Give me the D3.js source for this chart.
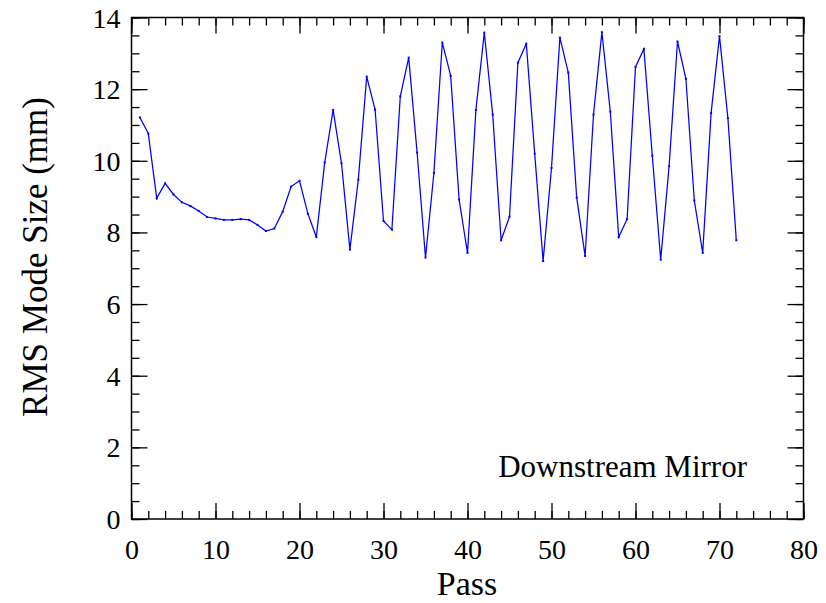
<!DOCTYPE html>
<html>
<head>
<meta charset="utf-8">
<script src="https://cdn.jsdelivr.net/npm/d3@7"></script>
<style>
  html, body { margin: 0; padding: 0; background: #fff; }
  svg { display: block; }
  .axis path { display: none; }
  .axis line { stroke: #000; stroke-width: 1.3; }
</style>
</head>
<body>
<svg id="chart" width="826" height="603"></svg>
<script>
// Pass number and RMS mode size (mm) at the downstream mirror
const passes = d3.range(1, 73);
const rmsSize = [
  11.21, 10.76, 8.95, 9.37, 9.06, 8.84, 8.74, 8.60, 8.43, 8.39,
  8.35, 8.35, 8.37, 8.35, 8.21, 8.04, 8.11, 8.58, 9.28, 9.44,
  8.52, 7.87, 9.95, 11.42, 9.93, 7.52, 9.47, 12.35, 11.43, 8.32,
  8.08, 11.80, 12.88, 10.23, 7.30, 9.66, 13.30, 12.37, 8.92, 7.43,
  11.42, 13.58, 11.29, 7.78, 8.44, 12.74, 13.27, 10.20, 7.20, 9.80,
  13.44, 12.46, 8.97, 7.34, 11.29, 13.59, 11.37, 7.87, 8.37, 12.62,
  13.12, 10.14, 7.24, 9.85, 13.33, 12.29, 8.89, 7.43, 11.33, 13.48,
  11.19, 7.78
];

const xMajorTicks = [0, 10, 20, 30, 40, 50, 60, 70, 80];
const xMinorTicks = d3.range(0, 81, 2);
const yMajorTicks = [0, 2, 4, 6, 8, 10, 12, 14];
const yMinorTicks = d3.range(0, 14.01, 0.5);

const xTitle = "Pass";
const yTitle = "RMS Mode Size (mm)";
const seriesLabel = "Downstream Mirror";

const serif = '"Liberation Serif", "Times New Roman", serif';
const plotLeft = 131.5, plotRight = 803.5, plotTop = 17.5, plotBottom = 519;
const svg = d3.select("#chart");

const x = d3.scaleLinear().domain([0, 80]).range([plotLeft, plotRight]);
const y = d3.scaleLinear().domain([0, 14]).range([plotBottom, plotTop]);

const majorLen = 16, minorLen = 8;

function addAxis(gen, transform, labels) {
  const g = svg.append("g").attr("class", "axis").attr("transform", transform).call(gen);
  if (!labels) g.selectAll("text").remove();
  g.selectAll("text").style("font-family", serif).attr("fill", "#000").attr("font-size", 28);
  return g;
}

// bottom axis with labels
const bx = addAxis(d3.axisBottom(x).tickValues(xMajorTicks).tickSize(-majorLen).tickPadding(0).tickFormat(d3.format("d")),
  `translate(0,${plotBottom})`, true);
bx.selectAll("text").attr("y", 40).attr("dy", 0);
addAxis(d3.axisBottom(x).tickValues(xMinorTicks).tickSize(-minorLen), `translate(0,${plotBottom})`, false);
// top axis
addAxis(d3.axisTop(x).tickValues(xMajorTicks).tickSize(-majorLen), `translate(0,${plotTop})`, false);
addAxis(d3.axisTop(x).tickValues(xMinorTicks).tickSize(-minorLen), `translate(0,${plotTop})`, false);
// left axis with labels
const ly = addAxis(d3.axisLeft(y).tickValues(yMajorTicks).tickSize(-majorLen).tickFormat(d3.format("d")),
  `translate(${plotLeft},0)`, true);
ly.selectAll("text").attr("x", -11).attr("dy", "0.34em");
addAxis(d3.axisLeft(y).tickValues(yMinorTicks).tickSize(-minorLen), `translate(${plotLeft},0)`, false);
// right axis
addAxis(d3.axisRight(y).tickValues(yMajorTicks).tickSize(-majorLen), `translate(${plotRight},0)`, false);
addAxis(d3.axisRight(y).tickValues(yMinorTicks).tickSize(-minorLen), `translate(${plotRight},0)`, false);

// frame
svg.append("rect")
  .attr("x", plotLeft).attr("y", plotTop)
  .attr("width", plotRight - plotLeft).attr("height", plotBottom - plotTop)
  .attr("fill", "none").attr("stroke", "#000").attr("stroke-width", 1.5);

// data line
const pts = passes.map((p, i) => [p, rmsSize[i]]);
svg.append("path")
  .datum(pts)
  .attr("fill", "none")
  .attr("stroke", "#0000ff")
  .attr("stroke-width", 1.25)
  .attr("stroke-linejoin", "miter")
  .attr("d", d3.line().x(d => x(d[0])).y(d => y(d[1])));

svg.append("g").selectAll("rect")
  .data(pts).join("rect")
  .attr("x", d => x(d[0]) - 1).attr("y", d => y(d[1]) - 1)
  .attr("width", 2).attr("height", 2)
  .attr("fill", "#0000ff");

// titles
svg.append("text")
  .attr("x", (plotLeft + plotRight) / 2 - 0.5).attr("y", 595)
  .attr("text-anchor", "middle").attr("font-size", 34)
  .style("font-family", serif).attr("fill", "#000")
  .text(xTitle);

svg.append("text")
  .attr("transform", "translate(47,257) rotate(-90)")
  .attr("text-anchor", "middle").attr("font-size", 35)
  .style("font-family", serif).attr("fill", "#000")
  .text(yTitle);

svg.append("text")
  .attr("x", 747).attr("y", 477)
  .attr("text-anchor", "end").attr("font-size", 31)
  .style("font-family", serif).attr("fill", "#000")
  .text(seriesLabel);
</script>
</body>
</html>
